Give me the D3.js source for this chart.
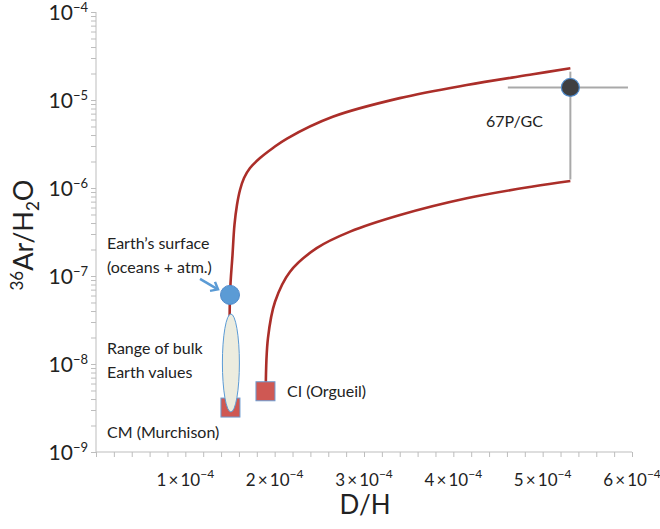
<!DOCTYPE html>
<html>
<head>
<meta charset="utf-8">
<script src="https://cdn.jsdelivr.net/npm/d3@7"></script>
<style>
  body { margin: 0; background: #fff; }
  text { font-family: Lato, "Open Sans", sans-serif; fill: #222; }
</style>
</head>
<body>
<script>
'use strict';

// x tick values (D/H), no label at 0
const xTickVals = [1e-4, 2e-4, 3e-4, 4e-4, 5e-4, 6e-4];
const xTickLabels = ['1', '2', '3', '4', '5', '6'];
// y decades
const yDecades = [1e-9, 1e-8, 1e-7, 1e-6, 1e-5, 1e-4];
const yDecadeExp = ['-9', '-8', '-7', '-6', '-5', '-4'];

// mixing curve chondrite (CM) -> comet
const upperDH = [1.50e-4, 1.50e-4, 1.528e-4, 1.550e-4, 1.578e-4, 1.612e-4, 1.657e-4, 1.724e-4, 1.836e-4, 1.981e-4, 2.138e-4, 2.65e-4, 3.40e-4, 4.15e-4, 4.89e-4, 5.31e-4];
const upperAr = [3.2e-9, 6.1e-8, 1.73e-7, 3.8e-7, 6.41e-7, 9.49e-7, 1.30e-6, 1.69e-6, 2.19e-6, 2.85e-6, 3.65e-6, 6.45e-6, 1.05e-5, 1.48e-5, 1.96e-5, 2.29e-5];
// mixing curve chondrite (CI) -> comet
const lowerDH = [1.90e-4, 1.925e-4, 2.004e-4, 2.172e-4, 2.47e-4, 2.844e-4, 3.403e-4, 4.15e-4, 4.89e-4, 5.31e-4];
const lowerAr = [5.2e-9, 1.97e-8, 5.1e-8, 1.12e-7, 2.07e-7, 3.19e-7, 4.93e-7, 7.64e-7, 1.04e-6, 1.2e-6];

// reservoirs
const earthSurface = {dh: 1.50e-4, ar: 6.1e-8};
const bulkEarth = {dh: 1.51e-4, arLow: 2.85e-9, arHigh: 3.7e-8};
const cmMurchison = {dh: 1.505e-4, ar: 3.2e-9};
const ciOrgueil = {dh: 1.897e-4, ar: 4.9e-9};
const comet67P = {dh: 5.31e-4, ar: 1.39e-5, dhLow: 4.61e-4, dhHigh: 5.955e-4, arLow: 1.25e-6, arHigh: 2.1e-5};

const svg = d3.select('body').append('svg')
  .attr('width', 660)
  .attr('height', 529);

const x = d3.scaleLinear().domain([0, 6e-4]).range([96, 632]);
const y = d3.scaleLog().domain([1e-9, 1e-4]).range([452, 12]);

const axisColor = '#bdbdbd';

// x axis with minor ticks every 2e-5
const xMinor = d3.range(0, 31).map(i => i * 2e-5);
const xAxis = d3.axisBottom(x).tickValues(xMinor).tickSize(5).tickFormat('');
const gx = svg.append('g')
  .attr('transform', 'translate(0,' + y(1e-9) + ')')
  .call(xAxis);
gx.selectAll('path, line').attr('stroke', axisColor);

// y axis with log minor ticks
const yMinor = [];
for (let e = -9; e < -4; e++) {
  for (let m = 1; m < 10; m++) yMinor.push(m * Math.pow(10, e));
}
yMinor.push(1e-4);
const yAxis = d3.axisLeft(y).tickValues(yMinor).tickSize(5).tickFormat('');
const gy = svg.append('g')
  .attr('transform', 'translate(' + x(0) + ',0)')
  .call(yAxis);
gy.selectAll('path, line').attr('stroke', axisColor);
gy.select('.domain').attr('d', 'M0,' + y(1e-4) + 'V' + y(1e-9));
gx.select('.domain').attr('d', 'M' + x(0) + ',0H' + x(6e-4));

// x tick labels
xTickVals.forEach((v, i) => {
  const t = svg.append('text')
    .attr('x', x(v))
    .attr('y', 486)
    .attr('text-anchor', 'middle')
    .style('font-size', '17px');
  t.append('tspan').text(xTickLabels[i] + '\u2009×\u200910');
  t.append('tspan').attr('dy', -8).style('font-size', '12px').text('\u22124');
});

// y tick labels
yDecades.forEach((v, i) => {
  const t = svg.append('text')
    .attr('x', 88)
    .attr('y', y(v) + 8)
    .attr('text-anchor', 'end')
    .style('font-size', '21px');
  t.append('tspan').text('10');
  t.append('tspan').attr('dy', -8).style('font-size', '13px').text(yDecadeExp[i].replace('-', '\u2212'));
});

// axis titles
svg.append('text')
  .attr('x', 365)
  .attr('y', 514)
  .attr('text-anchor', 'middle')
  .style('font-size', '26px')
  .text('D/H');

const yt = svg.append('text')
  .attr('transform', 'translate(33,235)rotate(-90)')
  .attr('text-anchor', 'middle')
  .style('font-size', '27px');
yt.append('tspan').attr('dy', -10).style('font-size', '17px').text('36');
yt.append('tspan').attr('dy', 10).text('Ar/H');
yt.append('tspan').attr('dy', 6).style('font-size', '17px').text('2');
yt.append('tspan').attr('dy', -6).text('O');

// mixing curves
const line = d3.line()
  .x(d => x(d[0]))
  .y(d => y(d[1]))
  .curve(d3.curveCatmullRom.alpha(0.5));
const curveColor = '#ab2e29';
svg.append('path')
  .attr('d', line(d3.zip(upperDH, upperAr)))
  .attr('fill', 'none')
  .attr('stroke', curveColor)
  .attr('stroke-width', 2.6);
svg.append('path')
  .attr('d', line(d3.zip(lowerDH, lowerAr)))
  .attr('fill', 'none')
  .attr('stroke', curveColor)
  .attr('stroke-width', 2.6);

// chondrite squares
const sq = 19;
[cmMurchison, ciOrgueil].forEach(p => {
  svg.append('rect')
    .attr('x', x(p.dh) - sq / 2)
    .attr('y', y(p.ar) - sq / 2)
    .attr('width', sq)
    .attr('height', sq)
    .attr('fill', '#cf5853')
    .attr('stroke', '#6d9bd0')
    .attr('stroke-width', 1);
});

// bulk Earth range ellipse
svg.append('ellipse')
  .attr('cx', x(bulkEarth.dh))
  .attr('cy', (y(bulkEarth.arLow) + y(bulkEarth.arHigh)) / 2)
  .attr('rx', 8.5)
  .attr('ry', (y(bulkEarth.arLow) - y(bulkEarth.arHigh)) / 2)
  .attr('fill', '#ececdf')
  .attr('stroke', '#5b9bd5')
  .attr('stroke-width', 1);

// Earth surface point
svg.append('circle')
  .attr('cx', x(earthSurface.dh))
  .attr('cy', y(earthSurface.ar))
  .attr('r', 9.5)
  .attr('fill', '#5b9bd5')
  .attr('stroke', '#4f8acb')
  .attr('stroke-width', 1);

// comet error bars
const errColor = '#a9a9a9';
svg.append('line')
  .attr('x1', x(comet67P.dhLow)).attr('x2', x(comet67P.dhHigh))
  .attr('y1', y(comet67P.ar)).attr('y2', y(comet67P.ar))
  .attr('stroke', errColor).attr('stroke-width', 2);
svg.append('line')
  .attr('x1', x(comet67P.dh)).attr('x2', x(comet67P.dh))
  .attr('y1', y(comet67P.arLow)).attr('y2', y(comet67P.arHigh))
  .attr('stroke', errColor).attr('stroke-width', 2);
svg.append('circle')
  .attr('cx', x(comet67P.dh))
  .attr('cy', y(comet67P.ar))
  .attr('r', 9)
  .attr('fill', '#3f3f41')
  .attr('stroke', '#4f8acb')
  .attr('stroke-width', 1.2);

// arrow to Earth surface point
const ex = x(earthSurface.dh), ey = y(earthSurface.ar);
svg.append('line')
  .attr('x1', ex - 30).attr('y1', ey - 16)
  .attr('x2', ex - 13).attr('y2', ey - 6)
  .attr('stroke', '#5b9bd5').attr('stroke-width', 2.5);
svg.append('path')
  .attr('d', 'M' + (ex - 20) + ',' + (ey - 4) + 'L' + (ex - 12) + ',' + (ey - 5.5) + 'L' + (ex - 15) + ',' + (ey - 13))
  .attr('fill', 'none')
  .attr('stroke', '#5b9bd5').attr('stroke-width', 2.5);

// annotations
function label(tx, ty, lines) {
  lines.forEach((s, i) => {
    svg.append('text')
      .attr('x', tx)
      .attr('y', ty + i * 24)
      .style('font-size', '16px')
      .text(s);
  });
}
label(107, 249, ['Earth\u2019s surface', '(oceans + atm.)']);
label(107, 354, ['Range of bulk', 'Earth values']);
label(107, 438, ['CM (Murchison)']);
label(287, 397, ['CI (Orgueil)']);
label(486, 127, ['67P/GC']);
</script>
</body>
</html>
